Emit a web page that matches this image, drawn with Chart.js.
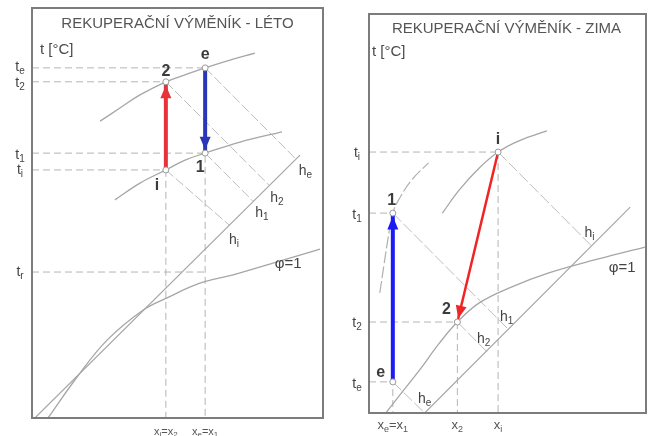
<!DOCTYPE html>
<html>
<head>
<meta charset="utf-8">
<script src="https://cdn.jsdelivr.net/npm/chart.js@4/dist/chart.umd.min.js"></script>
<style>
  html, body { margin: 0; padding: 0; background: #fff; overflow: hidden; }
  #wrap { position: relative; width: 651px; height: 436px; }
  canvas { position: absolute; top: 0; }
  #leto { left: 0; }
  #zima { left: 335px; }
</style>
</head>
<body>
<div id="wrap">
  <canvas id="leto" width="335" height="436"></canvas>
  <canvas id="zima" width="316" height="436"></canvas>
</div>
<script>
// Both h-x diagrams use a relative scale: x = moisture content 0..100, t = temperature 0..100.

// ---------- LÉTO (summer) ----------
const letoStateNames = ['e', '2', '1', 'i'];
const letoX = [59.5, 46.0, 59.5, 46.0];
const letoT = [85.4, 82.0, 64.6, 60.5];
const letoDewT = 35.6;                                    // t_r of outdoor air e
const letoHLabels = ['h_e', 'h_2', 'h_1', 'h_i'];
const letoHEnd = [[90.5, 63.3], [81.4, 56.8], [75.9, 52.9], [67.7, 47.1]];
const letoUpperCurve = [[23.4, 72.4], [30.2, 75.6], [37.1, 78.8], [46.0, 82.0], [52.6, 83.7], [59.5, 85.4], [68.0, 87.3], [76.6, 89.0]];
const letoLowerCurve = [[28.5, 53.2], [37.1, 57.3], [46.0, 60.5], [52.6, 62.9], [59.5, 64.6], [71.5, 67.3], [85.9, 69.8]];
const letoSaturation = [[5.5, 0], [15.5, 10.0], [25.8, 19.0], [38.1, 26.3], [46.4, 29.3], [57.7, 32.9], [69.1, 34.9], [82.8, 37.8], [99.0, 41.2]];
const letoHScale = [[1.0, 0], [92.1, 64.1]];
const letoYTicks = ['t_e', 't_2', 't_1', 't_i'];
const letoXTicks = ['x_e=x_1', 'x_i=x_2'];

// ---------- ZIMA (winter) ----------
const zimaStateNames = ['i', '1', '2', 'e'];
const zimaX = [46.6, 8.6, 31.9, 8.6];
const zimaT = [65.4, 50.1, 22.8, 7.8];
const zimaHLabels = ['h_i', 'h_1', 'h_2', 'h_e'];
const zimaHEnd = [[80.3, 41.9], [50.4, 20.9], [42.5, 15.4], [20.1, 0]];
const zimaCurveI = [[26.5, 50.1], [32.6, 55.9], [39.8, 61.4], [46.6, 65.4], [54.1, 68.2], [64.2, 70.7]];
const zimaCurve1 = [[3.9, 30.1], [5.4, 37.1], [6.8, 43.4], [8.6, 50.1], [11.1, 53.9], [15.4, 58.4], [21.5, 62.7]];
const zimaSaturation = [[6.1, 0], [11.1, 4.5], [18.3, 10.8], [25.4, 17.5], [31.9, 22.8], [39.8, 27.6], [50.5, 31.3], [64.9, 35.1], [82.8, 38.6], [99.6, 41.6]];
const zimaHScale = [[20.1, 0], [94.3, 51.6]];
const zimaYTicks = ['t_i', 't_1', 't_2', 't_e'];
const zimaXTicks = ['x_i', 'x_e=x_1', 'x_2', 'x_e=x_1'];

const FONT = "'Liberation Sans', Arial, sans-serif";
const GUIDE = '#b4b4b4';
const CURVE = '#a6a6a6';

const pts = arr => arr.map(([x, y]) => ({ x, y }));

function lineSet(data, color, width, dash, extra) {
  return Object.assign({
    data: pts(data), showLine: true, borderColor: color, borderWidth: width,
    borderDash: dash || [], pointRadius: 0, tension: 0.4, fill: false, order: 5
  }, extra || {});
}

// draws text where "_c" makes the character c a subscript
function drawRich(ctx, str, x, y, size, align, weight, color) {
  const parts = [];
  for (let k = 0; k < str.length; k++) {
    if (str[k] === '_' && k + 1 < str.length) { parts.push({ t: str[k + 1], sub: true }); k++; }
    else parts.push({ t: str[k], sub: false });
  }
  const subSize = Math.round(size * 0.7);
  const fontOf = p => `${weight || 'normal'} ${p.sub ? subSize : size}px ${FONT}`;
  let total = 0;
  parts.forEach(p => { ctx.font = fontOf(p); p.w = ctx.measureText(p.t).width; total += p.w; });
  let cx = align === 'left' ? x : align === 'right' ? x - total : x - total / 2;
  const base = y + size * 0.36;
  ctx.fillStyle = color || '#444';
  ctx.textBaseline = 'alphabetic';
  ctx.textAlign = 'left';
  parts.forEach(p => {
    ctx.font = fontOf(p);
    ctx.fillText(p.t, cx, p.sub ? base + size * 0.22 : base);
    cx += p.w;
  });
}

const diagramPlugin = {
  id: 'diagram',
  afterDatasetsDraw(chart, args, o) {
    const ctx = chart.ctx, a = chart.chartArea;
    const sx = chart.scales.x, sy = chart.scales.y;
    ctx.save();

    // arrow heads at the end of arrow datasets
    chart.data.datasets.forEach((ds, di) => {
      if (!ds.arrowHead) return;
      const m = chart.getDatasetMeta(di).data;
      const p0 = m[0], p1 = m[m.length - 1];
      const dx = p1.x - p0.x, dy = p1.y - p0.y, L = Math.hypot(dx, dy);
      const ux = dx / L, uy = dy / L;
      const tipX = p1.x - ux * 3.5, tipY = p1.y - uy * 3.5;
      const len = ds.arrowHead.len, hw = ds.arrowHead.half;
      const bx = tipX - ux * len, by = tipY - uy * len;
      ctx.beginPath();
      ctx.moveTo(tipX, tipY);
      ctx.lineTo(bx - uy * hw, by + ux * hw);
      ctx.lineTo(bx + uy * hw, by - ux * hw);
      ctx.closePath();
      ctx.fillStyle = ds.borderColor;
      ctx.fill();
    });

    // frame
    ctx.strokeStyle = '#7c7c7c';
    ctx.lineWidth = 2;
    ctx.strokeRect(a.left, a.top, a.right - a.left, a.bottom - a.top);

    // title and unit
    ctx.fillStyle = '#555';
    ctx.font = `15px ${FONT}`;
    ctx.textAlign = 'center';
    ctx.textBaseline = 'middle';
    ctx.fillText(o.title, (a.left + a.right) / 2 + o.titleShift, a.top + o.titleDy);
    ctx.textAlign = 'left';
    ctx.font = `15px ${FONT}`;
    ctx.fillStyle = '#4a4a4a';
    ctx.fillText('t [°C]', a.left + o.unitPos[0], a.top + o.unitPos[1]);

    // state labels
    o.states.forEach((s, k) => {
      drawRich(ctx, s, sx.getPixelForValue(o.stateX[k]) + o.stateOff[k][0],
        sy.getPixelForValue(o.stateT[k]) + o.stateOff[k][1], 16, 'center', 'bold', '#3c3c3c');
    });

    // enthalpy labels
    o.hLabels.forEach((s, k) => {
      drawRich(ctx, s, sx.getPixelForValue(o.hEnd[k][0]) + o.hOff[k][0],
        sy.getPixelForValue(o.hEnd[k][1]) + o.hOff[k][1], 14, 'center', 'normal', '#444');
    });

    // temperature labels left of the frame
    o.yTicks.forEach((s, k) => {
      drawRich(ctx, s, a.left - 12, sy.getPixelForValue(o.yValues[k]) + (o.yShift ? o.yShift[k] : 0), 14, 'center', 'normal', '#444');
    });

    // moisture labels below the frame
    o.xTicks.forEach((s, k) => {
      drawRich(ctx, s, sx.getPixelForValue(o.xValues[k]), a.bottom + o.xDy, o.xSize, 'center', 'normal', '#555');
    });

    // saturation line label
    drawRich(ctx, 'φ=1', sx.getPixelForValue(o.phi[0]), sy.getPixelForValue(o.phi[1]), 15, 'center', 'normal', '#444');
    ctx.restore();
  }
};

function baseOptions(padding, diagram) {
  return {
    responsive: false,
    animation: false,
    events: [],
    layout: { padding },
    scales: {
      x: { type: 'linear', min: 0, max: 100, display: false },
      y: { type: 'linear', min: 0, max: 100, display: false }
    },
    plugins: { legend: { display: false }, tooltip: { enabled: false }, diagram }
  };
}

function stateSets(xs, ts, arrows, extraGuides, skipVertical) {
  const sets = [];
  // dashed guides to the temperature axis
  xs.forEach((x, k) => sets.push(lineSet([[0, ts[k]], [x, ts[k]]], GUIDE, 1, [7, 4], { tension: 0 })));
  (extraGuides || []).forEach(g => sets.push(lineSet(g, GUIDE, 1, [7, 4], { tension: 0 })));
  // dashed guides to the moisture axis
  const done = {};
  xs.forEach((x, k) => {
    if (done[x] !== undefined) return;
    let top = ts[k];
    xs.forEach((x2, j) => { if (x2 === x) top = Math.max(top, ts[j]); });
    done[x] = top;
    sets.push(lineSet([[x, top], [x, 0]], GUIDE, 1, [7, 4], { tension: 0 }));
  });
  // process arrows
  arrows.forEach(ar => sets.push({
    data: pts([[xs[ar.from], ts[ar.from]], [xs[ar.to], ts[ar.to]]]),
    showLine: true, borderColor: ar.color, borderWidth: ar.width, borderCapStyle: 'butt',
    pointRadius: 0, tension: 0, order: 1, arrowHead: { len: 13, half: 5.5 }
  }));
  // state points
  sets.push({
    data: xs.map((x, k) => ({ x, y: ts[k] })), showLine: false,
    pointRadius: 3, pointBackgroundColor: '#fff', pointBorderColor: '#9a9a9a', pointBorderWidth: 1, order: 0
  });
  return sets;
}

// ---------- summer chart ----------
const letoSets = [
  lineSet(letoUpperCurve, CURVE, 1.3),
  lineSet(letoLowerCurve, CURVE, 1.3),
  lineSet(letoSaturation, CURVE, 1.3),
  lineSet(letoHScale, CURVE, 1.2, [], { tension: 0 }),
  ...letoHEnd.map((h, k) => lineSet([[letoX[k], letoT[k]], h], '#bdbdbd', 1, [10, 3], { tension: 0 })),
  ...stateSets(letoX, letoT, [
    { from: 3, to: 1, color: '#e8313a', width: 4 },
    { from: 0, to: 2, color: '#2a36b8', width: 4 }
  ], [[[0, letoDewT], [letoX[0], letoDewT]]])
];

new Chart(document.getElementById('leto'), {
  type: 'scatter',
  data: { datasets: letoSets },
  options: baseOptions({ left: 32, top: 8, right: 12, bottom: 18 }, {
    title: 'REKUPERAČNÍ VÝMĚNÍK - LÉTO', titleDy: 16, titleShift: 0, unitPos: [8, 42],
    states: letoStateNames, stateX: letoX, stateT: letoT,
    stateOff: [[0, -15], [0, -12], [-5, 13], [-9, 14]],
    hLabels: letoHLabels, hEnd: letoHEnd, hOff: [[10, 11], [8, 12], [9, 11], [5, 14]],
    yTicks: [...letoYTicks, 't_r'], yValues: [...letoT, letoDewT], yShift: [-2, 0, 1, -1, -1],
    xTicks: letoXTicks, xValues: [letoX[0], letoX[1]], xDy: 13, xSize: 11,
    phi: [88.0, 37.8]
  }),
  plugins: [diagramPlugin]
});

// ---------- winter chart ----------
const zimaSets = [
  lineSet(zimaCurveI, CURVE, 1.3),
  lineSet(zimaCurve1, '#b0b0b0', 1.2, [12, 3]),
  lineSet(zimaSaturation, CURVE, 1.3),
  lineSet(zimaHScale, CURVE, 1.2, [], { tension: 0 }),
  ...zimaHEnd.map((h, k) => lineSet([[zimaX[k], zimaT[k]], h], '#bdbdbd', 1, [12, 3], { tension: 0 })),
  ...stateSets(zimaX, zimaT, [
    { from: 3, to: 1, color: '#1c1cf2', width: 4 },
    { from: 0, to: 2, color: '#f02424', width: 2.5 }
  ])
];

new Chart(document.getElementById('zima'), {
  type: 'scatter',
  data: { datasets: zimaSets },
  options: baseOptions({ left: 34, top: 14, right: 3, bottom: 23 }, {
    title: 'REKUPERAČNÍ VÝMĚNÍK - ZIMA', titleDy: 15, titleShift: -1, unitPos: [3, 38],
    states: zimaStateNames, stateX: zimaX, stateT: zimaT,
    stateOff: [[0, -14], [-1, -14], [-11, -14], [-12, -11]],
    hLabels: zimaHLabels, hEnd: zimaHEnd, hOff: [[-2, -14], [-2, -14], [-3, -14], [0, -15]],
    yTicks: zimaYTicks, yValues: zimaT, yShift: [0, 1, 0, 1],
    xTicks: ['x_e=x_1', 'x_2', 'x_i'], xValues: [zimaX[3], zimaX[2], zimaX[0]], xDy: 11, xSize: 13,
    phi: [91.4, 36.6]
  }),
  plugins: [diagramPlugin]
});
</script>
</body>
</html>
